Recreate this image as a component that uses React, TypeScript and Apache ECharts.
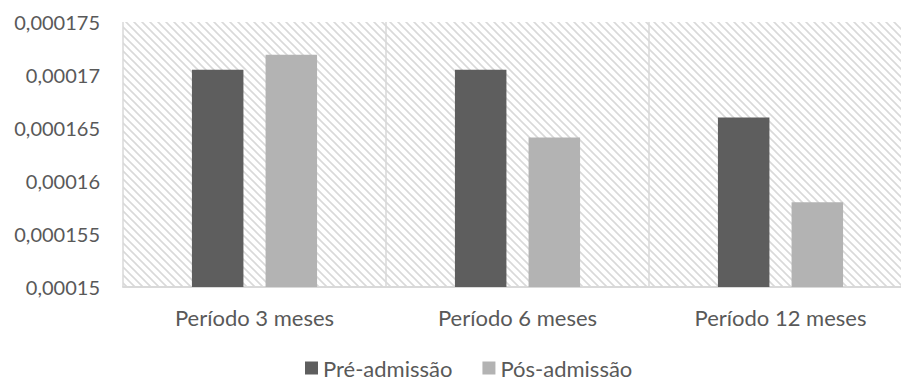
import React, { useEffect, useRef } from "react";
import * as echarts from "echarts";

const categories = ["Período 3 meses", "Período 6 meses", "Período 12 meses"];
const preAdmissao = [0.0001705, 0.0001705, 0.000166];
const posAdmissao = [0.0001719, 0.0001641, 0.000158];
const seriesNames = ["Pré-admissão", "Pós-admissão"];

const FONT = "Lato, 'Open Sans', sans-serif";
const TEXT = "#595959";

// Diagonal hatch tile for the plot background
function hatchTile(): string {
  const size = 8;
  const c = document.createElement("canvas");
  c.width = size;
  c.height = size;
  const ctx = c.getContext("2d")!;
  ctx.fillStyle = "#ffffff";
  ctx.fillRect(0, 0, size, size);
  ctx.strokeStyle = "#d9d9d9";
  ctx.lineWidth = 1.6;
  ctx.beginPath();
  ctx.moveTo(-2, -2);
  ctx.lineTo(size + 2, size + 2);
  ctx.moveTo(-2, size - 2);
  ctx.lineTo(2, size + 2);
  ctx.moveTo(size - 2, -2);
  ctx.lineTo(size + 2, 2);
  ctx.stroke();
  return c.toDataURL();
}

function fmt(v: number): string {
  return String(Number(v.toFixed(6))).replace(".", ",");
}

export default function App() {
  const ref = useRef<HTMLDivElement>(null);

  useEffect(() => {
    if (!ref.current) return;
    const chart = echarts.init(ref.current, undefined, { renderer: "svg" });
    chart.setOption({
      animation: false,
      backgroundColor: "#ffffff",
      textStyle: { fontFamily: FONT },
      grid: {
        left: 123,
        top: 22,
        width: 789,
        height: 265,
        show: true,
        borderWidth: 0,
        backgroundColor: { image: hatchTile(), repeat: "repeat" } as any,
      },
      legend: {
        top: 357,
        left: 305,
        padding: 0,
        itemWidth: 13,
        itemHeight: 13,
        itemGap: 30,
        icon: "rect",
        textStyle: { color: TEXT, fontSize: 22, fontFamily: FONT },
        data: seriesNames,
      },
      xAxis: {
        type: "category",
        data: categories,
        axisLine: { show: true, lineStyle: { color: "#d9d9d9", width: 2 } },
        axisTick: { show: false },
        splitLine: { show: true, lineStyle: { color: "#d9d9d9", width: 1.5 } },
        axisLabel: { color: TEXT, fontSize: 22, margin: 19, fontFamily: FONT },
      },
      yAxis: {
        type: "value",
        min: 0.00015,
        max: 0.000175,
        interval: 0.000005,
        axisLine: { show: false },
        axisTick: { show: false },
        splitLine: { show: false },
        axisLabel: {
          color: TEXT,
          fontSize: 20,
          margin: 23,
          fontFamily: FONT,
          formatter: (v: number) => fmt(v),
        },
      },
      series: [
        {
          name: seriesNames[0],
          type: "bar",
          data: preAdmissao,
          barWidth: 51.5,
          barGap: "43%",
          itemStyle: { color: "#5e5e5e" },
        },
        {
          name: seriesNames[1],
          type: "bar",
          data: posAdmissao,
          barWidth: 51.5,
          itemStyle: { color: "#b3b3b3" },
        },
      ],
    });
    return () => chart.dispose();
  }, []);

  return (
    <div
      style={{
        position: "fixed",
        left: 0,
        top: 0,
        width: 901,
        height: 380,
        overflow: "hidden",
      }}
    >
      <div ref={ref} style={{ width: 930, height: 380 }} />
    </div>
  );
}
